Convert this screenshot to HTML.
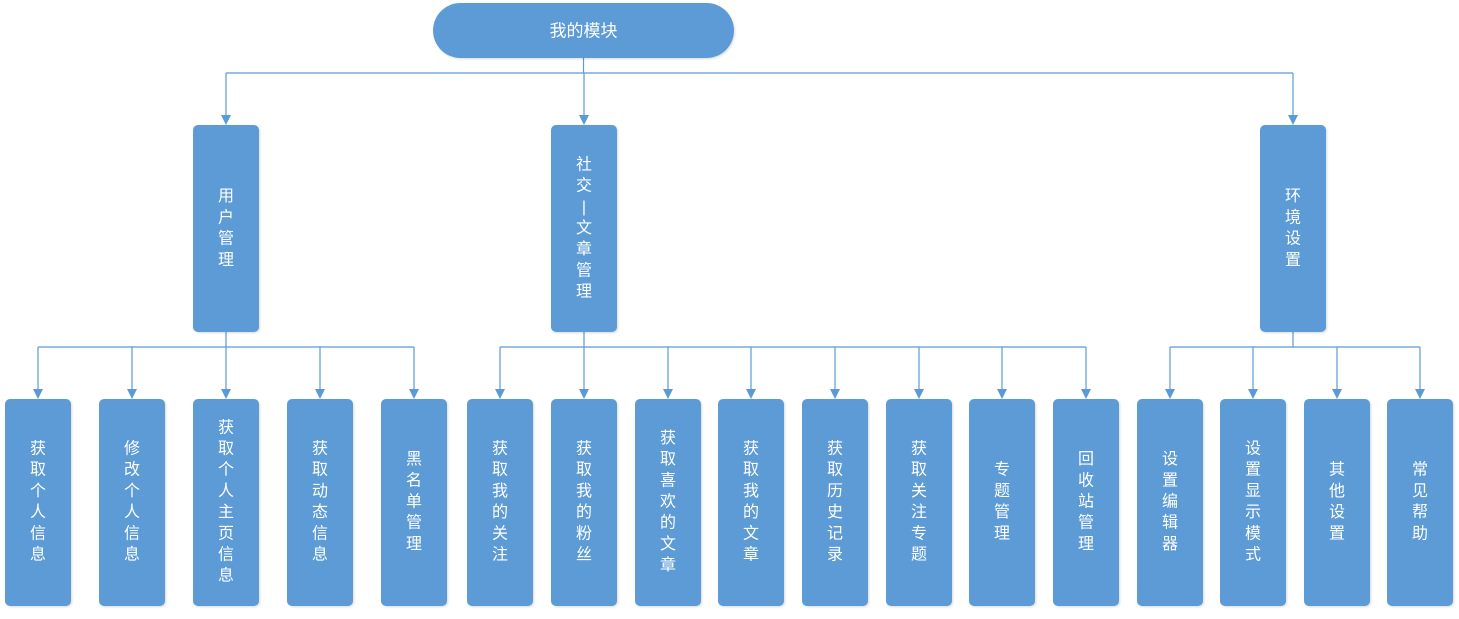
<!DOCTYPE html>
<html><head><meta charset="utf-8"><style>
html,body{margin:0;padding:0;background:#fff;}
svg text{font-family:"Liberation Sans","Noto Sans CJK SC",sans-serif;fill:#fff;font-size:16px;text-anchor:middle;dominant-baseline:central;}
</style></head><body>
<svg width="1459" height="614" viewBox="0 0 1459 614" xmlns="http://www.w3.org/2000/svg">
<defs>
<filter id="s" x="-10%" y="-10%" width="130%" height="130%"><feDropShadow dx="1" dy="1" stdDeviation="1" flood-color="#000" flood-opacity="0.15"/></filter>
</defs>
<g stroke="#5b9bd5" stroke-width="1.2" fill="none">
<path d="M583.5 58 V73 M226 73 H1293"/>
<path d="M226 347 V332 M38 347 H414"/>
<path d="M584 332 V347 M500 347 H1086"/>
<path d="M1293 332 V347 M1170 347 H1420"/>
</g>
<g id="arr"></g>
<g fill="#5b9bd5" filter="url(#s)">
<rect x="433" y="3" width="301" height="55" rx="27.5"/>
<rect x="193" y="125" width="66" height="207" rx="5"/>
<rect x="551" y="125" width="66" height="207" rx="5"/>
<rect x="1260" y="125" width="66" height="207" rx="5"/>
<rect x="5" y="399" width="66" height="207" rx="5"/>
<rect x="99" y="399" width="66" height="207" rx="5"/>
<rect x="193" y="399" width="66" height="207" rx="5"/>
<rect x="287" y="399" width="66" height="207" rx="5"/>
<rect x="381" y="399" width="66" height="207" rx="5"/>
<rect x="467" y="399" width="66" height="207" rx="5"/>
<rect x="551" y="399" width="66" height="207" rx="5"/>
<rect x="635" y="399" width="66" height="207" rx="5"/>
<rect x="718" y="399" width="66" height="207" rx="5"/>
<rect x="802" y="399" width="66" height="207" rx="5"/>
<rect x="886" y="399" width="66" height="207" rx="5"/>
<rect x="969" y="399" width="66" height="207" rx="5"/>
<rect x="1053" y="399" width="66" height="207" rx="5"/>
<rect x="1137" y="399" width="66" height="207" rx="5"/>
<rect x="1220" y="399" width="66" height="207" rx="5"/>
<rect x="1304" y="399" width="66" height="207" rx="5"/>
<rect x="1387" y="399" width="66" height="207" rx="5"/>
</g>
<text x="583.5" y="31" style="font-size:17px">我的模块</text>
<g id="labels"></g>
</svg>
<script>
var ns="http://www.w3.org/2000/svg";
var a=document.getElementById("arr");
function arrow(x,y0,y1){var l=document.createElementNS(ns,"path");l.setAttribute("d","M"+x+" "+y0+" V"+(y1-8));l.setAttribute("stroke","#5b9bd5");l.setAttribute("stroke-width","1.2");a.appendChild(l);
var p=document.createElementNS(ns,"path");p.setAttribute("d","M"+(x-5)+" "+(y1-10)+" L"+(x+5)+" "+(y1-10)+" L"+x+" "+y1+" z");p.setAttribute("fill","#5b9bd5");a.appendChild(p);}
[226,584,1293].forEach(function(x){arrow(x,73,125);});
[38,132,226,320,414,500,584,668,751,835,919,1002,1086,1170,1253,1337,1420].forEach(function(x){arrow(x,347,399);});
var items=[
[226,228.5,"用户管理"],[584,228.5,"社交|文章管理"],[1293,228.5,"环境设置"],
[38,502,"获取个人信息"],[132,502,"修改个人信息"],[226,502,"获取个人主页信息"],[320,502,"获取动态信息"],[414,502,"黑名单管理"],
[500,502,"获取我的关注"],[584,502,"获取我的粉丝"],[668,502,"获取喜欢的文章"],[751,502,"获取我的文章"],[835,502,"获取历史记录"],[919,502,"获取关注专题"],[1002,502,"专题管理"],[1086,502,"回收站管理"],
[1170,502,"设置编辑器"],[1253,502,"设置显示模式"],[1337,502,"其他设置"],[1420,502,"常见帮助"]];
var g=document.getElementById("labels");
items.forEach(function(it){var ch=Array.from(it[2]),n=ch.length,sp=21.2;
ch.forEach(function(c,i){var t=document.createElementNS(ns,"text");t.setAttribute("x",it[0]);t.setAttribute("y",it[1]-(n-1)*sp/2+i*sp);t.textContent=c;g.appendChild(t);});});
</script>
</body></html>
